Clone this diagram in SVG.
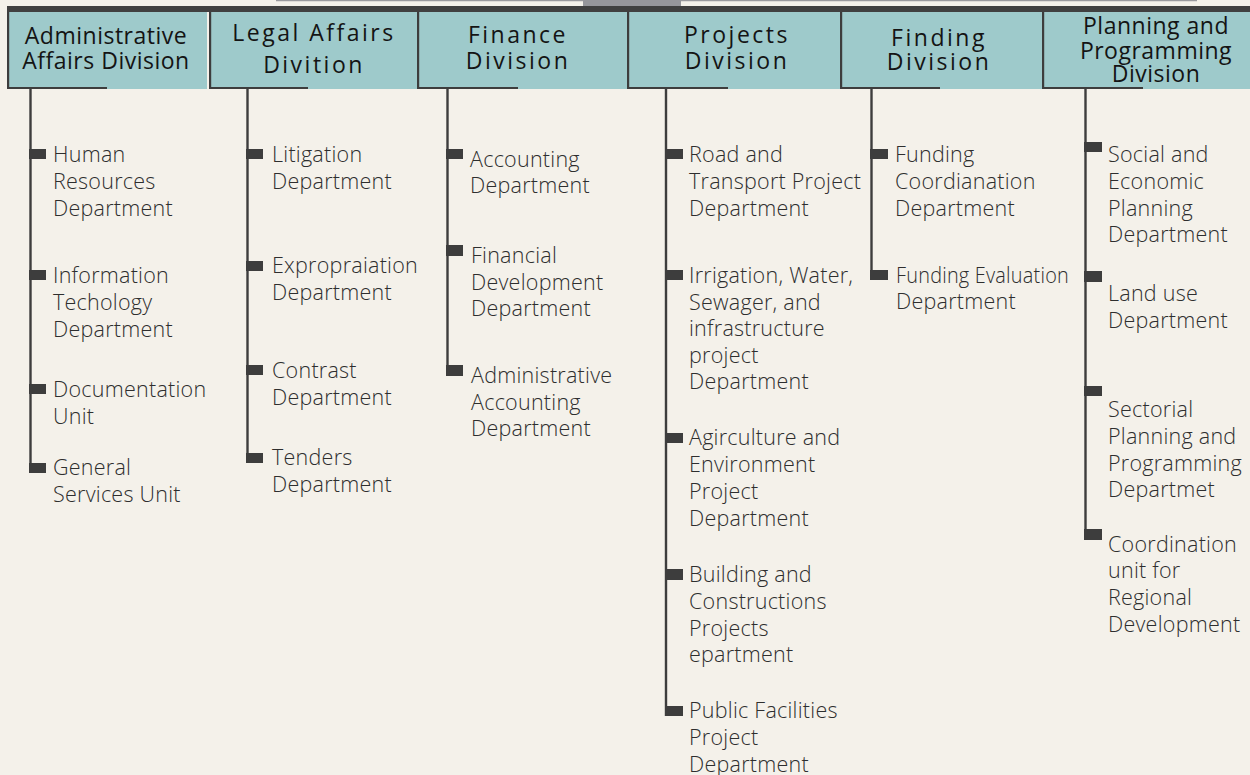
<svg xmlns="http://www.w3.org/2000/svg" width="1250" height="775" viewBox="0 0 1250 775">
  <style>
    .bg { fill: #f4f1ea; }
    .head { fill: #9ecacb; }
    .frame { fill: none; stroke: #3d3d3d; stroke-width: 2.2; }
    .htxt { font-family: "Open Sans", "Liberation Sans", sans-serif; font-size: 23px; font-weight: 500; fill: #141414; text-anchor: middle; letter-spacing: 0.5px; }
    .wide { letter-spacing: 2.5px; }
    .itxt { font-family: "Open Sans", "Liberation Sans", sans-serif; font-size: 21.5px; font-weight: 300; fill: #2e2e2e; letter-spacing: 0.25px; }
    .stem { stroke: #3d3d3d; stroke-width: 2.4; fill: none; }
    .tick { fill: #3d3d3d; }
  </style>
  <rect class="bg" x="0" y="0" width="1250" height="775"/>

  <!-- top rule and link to the parent above -->
  <line x1="276" y1="0.5" x2="1197" y2="0.5" stroke="#9a9a9e" stroke-width="1.5"/>
  <rect x="583" y="0" width="98" height="6" fill="#96969b"/>
  <rect x="7" y="6" width="1243" height="6" fill="#404040"/>

  <!-- division headers -->
  <g id="div-admin">
    <rect class="head" x="7" y="12" width="200" height="77"/>
    <path class="frame" d="M8.1 12 V88 H107"/>
    <text class="htxt" x="106" y="44">Administrative<tspan x="106" y="69">Affairs Division</tspan></text>
  </g>
  <g id="div-legal">
    <rect class="head" x="209" y="12" width="208" height="77"/>
    <path class="frame" d="M210.1 12 V88 H308"/>
    <text class="htxt wide" x="314" y="41">Legal Affairs<tspan x="314" y="73">Divition</tspan></text>
  </g>
  <g id="div-finance">
    <rect class="head" x="417" y="12" width="210" height="77"/>
    <path class="frame" d="M418.1 12 V88 H518"/>
    <text class="htxt wide" x="518" y="43">Finance<tspan x="518" y="69">Division</tspan></text>
  </g>
  <g id="div-projects">
    <rect class="head" x="627" y="12" width="214" height="77"/>
    <path class="frame" d="M628.1 12 V88 H728"/>
    <text class="htxt wide" x="737" y="43">Projects<tspan x="737" y="69">Division</tspan></text>
  </g>
  <g id="div-finding">
    <rect class="head" x="841" y="12" width="201" height="77"/>
    <path class="frame" d="M841.1 12 V88 H940"/>
    <text class="htxt wide" x="939" y="46">Finding<tspan x="939" y="70">Division</tspan></text>
  </g>
  <g id="div-planning">
    <rect class="head" x="1042" y="12" width="208" height="77"/>
    <path class="frame" d="M1043.1 12 V88 H1143"/>
    <text class="htxt" x="1156" y="34" letter-spacing="1.4">Planning and<tspan x="1156" y="59">Programming</tspan><tspan x="1156" y="82">Division</tspan></text>
  </g>

  <!-- branch lines and ticks -->
  <g id="connectors">
    <line class="stem" x1="30.5" y1="89" x2="30.5" y2="473"/>
    <rect class="tick" x="29" y="149" width="17" height="10"/>
    <rect class="tick" x="29" y="270" width="17" height="10"/>
    <rect class="tick" x="29" y="384" width="17" height="10"/>
    <rect class="tick" x="29" y="463" width="17" height="10"/>

    <line class="stem" x1="247.5" y1="89" x2="247.5" y2="463"/>
    <rect class="tick" x="246" y="149" width="17" height="10"/>
    <rect class="tick" x="246" y="261" width="17" height="10"/>
    <rect class="tick" x="246" y="365" width="17" height="10"/>
    <rect class="tick" x="246" y="453" width="17" height="10"/>

    <line class="stem" x1="447.5" y1="89" x2="447.5" y2="376"/>
    <rect class="tick" x="446" y="149" width="17" height="10"/>
    <rect class="tick" x="446" y="245" width="17" height="11"/>
    <rect class="tick" x="446" y="365" width="17" height="11"/>

    <line class="stem" x1="666" y1="89" x2="666" y2="716"/>
    <rect class="tick" x="665" y="149" width="18" height="10"/>
    <rect class="tick" x="665" y="270" width="18" height="10"/>
    <rect class="tick" x="665" y="433" width="18" height="10"/>
    <rect class="tick" x="665" y="569" width="18" height="11"/>
    <rect class="tick" x="665" y="706" width="18" height="10"/>

    <line class="stem" x1="871.5" y1="89" x2="871.5" y2="280"/>
    <rect class="tick" x="870" y="149" width="18" height="10"/>
    <rect class="tick" x="870" y="270" width="18" height="10"/>

    <line class="stem" x1="1085.5" y1="89" x2="1085.5" y2="540"/>
    <rect class="tick" x="1084" y="142" width="18" height="10"/>
    <rect class="tick" x="1084" y="271" width="18" height="11"/>
    <rect class="tick" x="1084" y="386" width="18" height="10"/>
    <rect class="tick" x="1084" y="529" width="18" height="11"/>
  </g>

  <!-- Administrative Affairs units -->
  <g id="hr-dept"><text class="itxt" x="53" y="162">Human<tspan x="53" dy="27">Resources</tspan><tspan x="53" dy="27">Department</tspan></text></g>
  <g id="it-dept"><text class="itxt" x="53" y="283">Information<tspan x="53" dy="27">Techology</tspan><tspan x="53" dy="27">Department</tspan></text></g>
  <g id="doc-unit"><text class="itxt" x="53" y="397">Documentation<tspan x="53" dy="27">Unit</tspan></text></g>
  <g id="gs-unit"><text class="itxt" x="53" y="475">General<tspan x="53" dy="27">Services Unit</tspan></text></g>

  <!-- Legal Affairs units -->
  <g id="litigation-dept"><text class="itxt" x="272" y="162">Litigation<tspan x="272" dy="27">Department</tspan></text></g>
  <g id="expropriation-dept"><text class="itxt" x="272" y="273">Expropraiation<tspan x="272" dy="27">Department</tspan></text></g>
  <g id="contrast-dept"><text class="itxt" x="272" y="378">Contrast<tspan x="272" dy="27">Department</tspan></text></g>
  <g id="tenders-dept"><text class="itxt" x="272" y="465">Tenders<tspan x="272" dy="27">Department</tspan></text></g>

  <!-- Finance units -->
  <g id="accounting-dept"><text class="itxt" x="470" y="167">Accounting<tspan x="470" dy="26">Department</tspan></text></g>
  <g id="fin-dev-dept"><text class="itxt" x="471" y="263">Financial<tspan x="471" dy="27">Development</tspan><tspan x="471" dy="26">Department</tspan></text></g>
  <g id="admin-acc-dept"><text class="itxt" x="471" y="383">Administrative<tspan x="471" dy="27">Accounting</tspan><tspan x="471" dy="26">Department</tspan></text></g>

  <!-- Projects units -->
  <g id="road-dept"><text class="itxt" x="689" y="162">Road and<tspan x="689" dy="27">Transport Project</tspan><tspan x="689" dy="27">Department</tspan></text></g>
  <g id="irrigation-dept"><text class="itxt" x="689" y="283">Irrigation, Water,<tspan x="689" dy="27">Sewager, and</tspan><tspan x="689" dy="26">infrastructure</tspan><tspan x="689" dy="27">project</tspan><tspan x="689" dy="26">Department</tspan></text></g>
  <g id="agri-dept"><text class="itxt" x="689" y="445">Agirculture and<tspan x="689" dy="27">Environment</tspan><tspan x="689" dy="27">Project</tspan><tspan x="689" dy="27">Department</tspan></text></g>
  <g id="building-dept"><text class="itxt" x="689" y="582">Building and<tspan x="689" dy="27">Constructions</tspan><tspan x="689" dy="27">Projects</tspan><tspan x="689" dy="26">epartment</tspan></text></g>
  <g id="public-dept"><text class="itxt" x="689" y="718">Public Facilities<tspan x="689" dy="27">Project</tspan><tspan x="689" dy="27">Department</tspan></text></g>

  <!-- Finding units -->
  <g id="funding-coord-dept"><text class="itxt" x="895" y="162">Funding<tspan x="895" dy="27">Coordianation</tspan><tspan x="895" dy="27">Department</tspan></text></g>
  <g id="funding-eval-dept"><text class="itxt" x="896" y="283" font-size="19.5" letter-spacing="0"><tspan textLength="173" lengthAdjust="spacingAndGlyphs">Funding Evaluation</tspan><tspan x="896" dy="26">Department</tspan></text></g>

  <!-- Planning and Programming units -->
  <g id="social-dept"><text class="itxt" x="1108" y="162">Social and<tspan x="1108" dy="27">Economic</tspan><tspan x="1108" dy="27">Planning</tspan><tspan x="1108" dy="26">Department</tspan></text></g>
  <g id="landuse-dept"><text class="itxt" x="1108" y="301">Land use<tspan x="1108" dy="27">Department</tspan></text></g>
  <g id="sectorial-dept"><text class="itxt" x="1108" y="417">Sectorial<tspan x="1108" dy="27">Planning and</tspan><tspan x="1108" dy="27">Programming</tspan><tspan x="1108" dy="26">Departmet</tspan></text></g>
  <g id="regional-unit"><text class="itxt" x="1108" y="552">Coordination<tspan x="1108" dy="26">unit for</tspan><tspan x="1108" dy="27">Regional</tspan><tspan x="1108" dy="27">Development</tspan></text></g>
</svg>
